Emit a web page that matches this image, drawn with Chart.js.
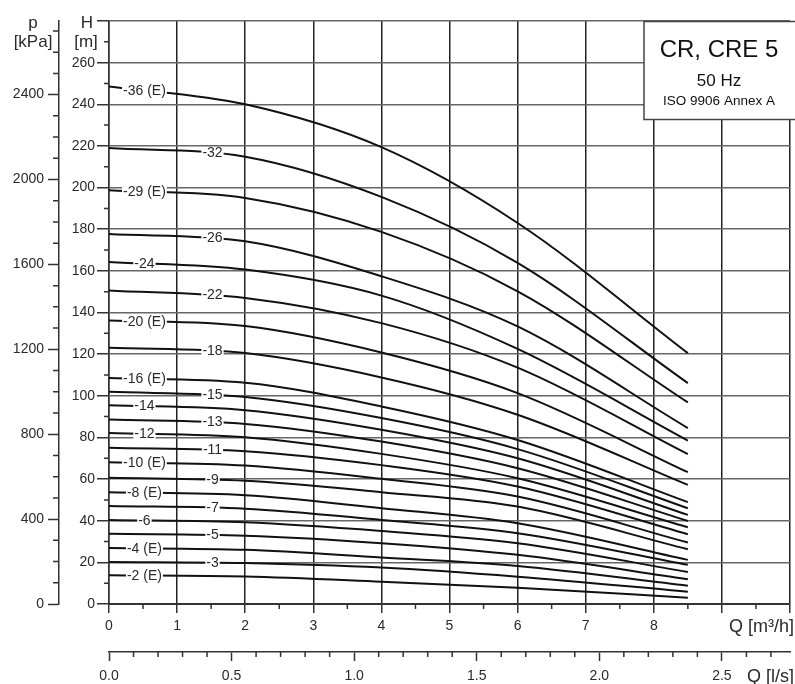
<!DOCTYPE html>
<html>
<head>
<meta charset="utf-8">
<script src="https://cdn.jsdelivr.net/npm/chart.js@4.4.0/dist/chart.umd.min.js"></script>
<style>
  html, body { margin: 0; padding: 0; background: #fff; }
  #wrap { width: 795px; height: 684px; }
</style>
</head>
<body>
<div id="wrap"><canvas id="pumpChart" width="795" height="684"></canvas></div>
<script>
// pump curves, head H [m] read at flow Q [m3/h]
const stageLabels = ['-36 (E)', '-32', '-29 (E)', '-26', '-24', '-22', '-20 (E)', '-18', '-16 (E)', '-15', '-14', '-13',
    '-12', '-11', '-10 (E)', '-9', '-8 (E)', '-7', '-6', '-5', '-4 (E)', '-3', '-2 (E)'];
const flowPoints = [0, 2, 4, 6, 8.5];
const headQ0 = [248.6, 219.0, 198.7, 177.7, 164.3, 150.6, 136.2, 123.1, 108.5, 101.9, 95.5, 88.6, 82.1, 75.1, 68.1, 60.6, 53.7, 47.1, 40.4, 33.7, 26.9, 20.2, 13.8];
const headQ2 = [240.0, 214.8, 195.0, 174.2, 160.6, 147.0, 133.5, 120.5, 106.3, 99.4, 93.1, 86.5, 80.1, 73.4, 66.5, 59.2, 52.2, 45.8, 39.3, 32.8, 26.0, 19.7, 13.2];
const headQ4 = [219.4, 195.5, 178.7, 157.4, 148.1, 134.9, 120.8, 108.8, 94.9, 89.3, 83.7, 78.0, 72.1, 66.7, 60.1, 53.7, 46.0, 40.4, 35.1, 29.2, 22.3, 17.5, 10.7];
const headQ6 = [183.0, 163.8, 150.2, 133.3, 122.5, 113.5, 101.3, 90.9, 78.8, 74.4, 70.0, 65.2, 60.4, 56.4, 51.6, 46.8, 38.8, 34.0, 29.2, 23.6, 18.3, 13.1, 7.8];
const headQ85 = [120.5, 106.1, 96.8, 84.5, 78.5, 72.0, 63.3, 57.2, 48.9, 46.0, 42.8, 39.9, 36.9, 33.5, 29.5, 26.3, 21.2, 18.8, 15.4, 11.9, 8.8, 5.9, 3.0];

// axis ticks
const qTicks = [0, 1, 2, 3, 4, 5, 6, 7, 8, 9, 10];
const qLabels = ['0', '1', '2', '3', '4', '5', '6', '7', '8', '', ''];
const lsTicks = [0, 0.5, 1, 1.5, 2, 2.5];
const lsLabels = ['0.0', '0.5', '1.0', '1.5', '2.0', '2.5'];
const hTicks = [0, 20, 40, 60, 80, 100, 120, 140, 160, 180, 200, 220, 240, 260, 280];
const hLabels = ['0', '20', '40', '60', '80', '100', '120', '140', '160', '180', '200', '220', '240', '260', ''];
const pTicks = [0, 400, 800, 1200, 1600, 2000, 2400];
const pLabels = ['0', '400', '800', '1200', '1600', '2000', '2400'];

const FONT = "'Liberation Sans', Arial, sans-serif";
const INK = '#2a2a2a';
const LINE = '#333';

const headCols = [headQ0, headQ2, headQ4, headQ6, headQ85];
const datasets = stageLabels.map((lbl, i) => ({
    label: lbl,
    data: flowPoints.map((q, k) => ({ x: q, y: headCols[k][i] })),
    borderColor: '#111',
    borderWidth: 2,
    pointRadius: 0,
    fill: false,
    cubicInterpolationMode: 'monotone',
}));

// where each stage label sits along Q (left or right column)
const labelQ = stageLabels.map(l => (/^-(32|26|22|18|15|13|11|9|7|5|3)$/.test(l) ? 1.52 : 0.52));

function curvePixelY(meta, px) {
    const pts = meta.data;
    const bez = (t, p0, p1, p2, p3) => {
        const u = 1 - t;
        return u * u * u * p0 + 3 * u * u * t * p1 + 3 * u * t * t * p2 + t * t * t * p3;
    };
    for (let i = 0; i < pts.length - 1; i++) {
        const a = pts[i], b = pts[i + 1];
        if (px < a.x || px > b.x) continue;
        if (a.cp2x === undefined) return a.y + (b.y - a.y) * (px - a.x) / (b.x - a.x);
        let lo = 0, hi = 1;
        for (let k = 0; k < 30; k++) {
            const m = (lo + hi) / 2;
            if (bez(m, a.x, a.cp2x, b.cp1x, b.x) < px) lo = m; else hi = m;
        }
        return bez(lo, a.y, a.cp2y, b.cp1y, b.y);
    }
    return null;
}

const extras = {
    id: 'extras',
    afterDatasetsDraw(chart) {
        const { ctx, scales: { x } } = chart;
        ctx.save();
        ctx.font = '14px ' + FONT;
        ctx.textAlign = 'center';
        ctx.textBaseline = 'middle';
        chart.data.datasets.forEach((ds, i) => {
            const px = x.getPixelForValue(labelQ[i]);
            const py = curvePixelY(chart.getDatasetMeta(i), px);
            if (py === null) return;
            const w = ctx.measureText(ds.label).width;
            ctx.fillStyle = '#fff';
            ctx.fillRect(px - w / 2 - 1, py - 5.5, w + 2, 11);
            ctx.fillStyle = INK;
            ctx.fillText(ds.label, px, py + 0.5);
        });
        ctx.restore();
    },
    afterDraw(chart) {
        const { ctx, chartArea, scales: { x, x2, y, y2 } } = chart;
        ctx.save();

        // minor ticks
        ctx.strokeStyle = LINE;
        ctx.lineWidth = 1.5;
        ctx.beginPath();
        for (let v = 10; v < 280; v += 20) {
            const py = y.getPixelForValue(v);
            ctx.moveTo(y.right - 5, py); ctx.lineTo(y.right, py);
        }
        for (let v = 100; v < y2.max; v += 100) {
            if (v % 400 === 0) continue;
            const py = y2.getPixelForValue(v);
            ctx.moveTo(y2.right - 6, py); ctx.lineTo(y2.right, py);
        }
        for (let v = 0.5; v < 10; v += 1) {
            const px = x.getPixelForValue(v);
            ctx.moveTo(px, x.top); ctx.lineTo(px, x.top + 5);
        }
        for (let i = 1; i / 10 < x2.max; i++) {
            if (i % 5 === 0) continue;
            const px = x2.getPixelForValue(i / 10);
            ctx.moveTo(px, x2.top); ctx.lineTo(px, x2.top + 5);
        }
        ctx.stroke();

        // axis titles
        ctx.fillStyle = INK;
        ctx.font = '17px ' + FONT;
        ctx.textBaseline = 'middle';
        ctx.textAlign = 'center';
        ctx.fillText('p', 33, 23);
        ctx.fillText('[kPa]', 33, 42);
        ctx.fillText('H', 87, 23);
        ctx.fillText('[m]', 86, 42);
        ctx.font = '18px ' + FONT;
        ctx.textAlign = 'right';
        ctx.fillText('Q [m\u00B3/h]', 794, 627);
        ctx.fillText('Q [l/s]', 794, 677);

        // title box
        const bx = chartArea.right - 146, by = chartArea.top + 0.5, bw = 152, bh = 98;
        ctx.fillStyle = '#fff';
        ctx.fillRect(bx, by, bw, bh);
        ctx.strokeStyle = '#444';
        ctx.lineWidth = 1.5;
        ctx.strokeRect(bx, by, bw, bh);
        ctx.fillStyle = '#111';
        ctx.textAlign = 'center';
        const cx = bx + 75;
        ctx.font = '24px ' + FONT;
        ctx.fillText('CR, CRE 5', cx, by + 29);
        ctx.font = '17px ' + FONT;
        ctx.fillText('50 Hz', cx, by + 60);
        ctx.font = '13.5px ' + FONT;
        ctx.fillText('ISO 9906 Annex A', cx, by + 80);
        ctx.restore();
    }
};

function fixedTicks(list) {
    return (scale) => { scale.ticks = list.map(v => ({ value: v })); };
}

const ctx = document.getElementById('pumpChart').getContext('2d');

new Chart(ctx, {
    type: 'line',
    data: { datasets: datasets },
    options: {
        responsive: false,
        animation: false,
        devicePixelRatio: 1,
        layout: { padding: { top: 21, right: 2, left: 0, bottom: 0 } },
        plugins: {
            legend: { display: false },
            tooltip: { enabled: false },
        },
        scales: {
            x: {
                type: 'linear',
                position: 'bottom',
                weight: 0,
                min: 0,
                max: 10,
                afterBuildTicks: fixedTicks(qTicks),
                afterFit: (s) => { s.height = 48; },
                grid: { color: '#222', lineWidth: 1.5, tickLength: 9, tickColor: LINE, tickWidth: 1.5 },
                border: { color: LINE, width: 2 },
                ticks: {
                    autoSkip: false, maxRotation: 0, padding: 5,
                    color: INK, font: { size: 14, family: FONT },
                    callback: (v, i) => qLabels[i],
                },
            },
            x2: {
                type: 'linear',
                position: 'bottom',
                weight: 1,
                min: 0,
                max: 10 / 3.6,
                afterBuildTicks: fixedTicks(lsTicks),
                afterFit: (s) => { s.height = 32; },
                grid: { drawOnChartArea: false, tickLength: 9, tickColor: LINE, tickWidth: 1.5 },
                border: { color: LINE, width: 1.5 },
                ticks: {
                    autoSkip: false, maxRotation: 0, padding: 7,
                    color: INK, font: { size: 14, family: FONT },
                    callback: (v, i) => lsLabels[i],
                },
            },
            y: {
                type: 'linear',
                position: 'left',
                weight: 0,
                min: 0,
                max: 280,
                afterBuildTicks: fixedTicks(hTicks),
                afterFit: (s) => { s.width = 50; },
                grid: { color: '#666', lineWidth: 1.5, tickLength: 12, tickColor: LINE, tickWidth: 1.5 },
                border: { color: LINE, width: 1.5 },
                ticks: {
                    autoSkip: false, padding: 2,
                    color: INK, font: { size: 14, family: FONT },
                    callback: (v, i) => hLabels[i],
                },
            },
            y2: {
                type: 'linear',
                position: 'left',
                weight: 1,
                min: 0,
                max: 280 * 9.81,
                afterBuildTicks: fixedTicks(pTicks),
                afterFit: (s) => { s.width = 59; },
                grid: { drawOnChartArea: false, tickLength: 11, tickColor: LINE, tickWidth: 1.5 },
                border: { color: LINE, width: 1.5 },
                ticks: {
                    autoSkip: false, padding: 4,
                    color: INK, font: { size: 14, family: FONT },
                    callback: (v, i) => pLabels[i],
                },
            },
        },
    },
    plugins: [extras],
});
</script>
</body>
</html>
